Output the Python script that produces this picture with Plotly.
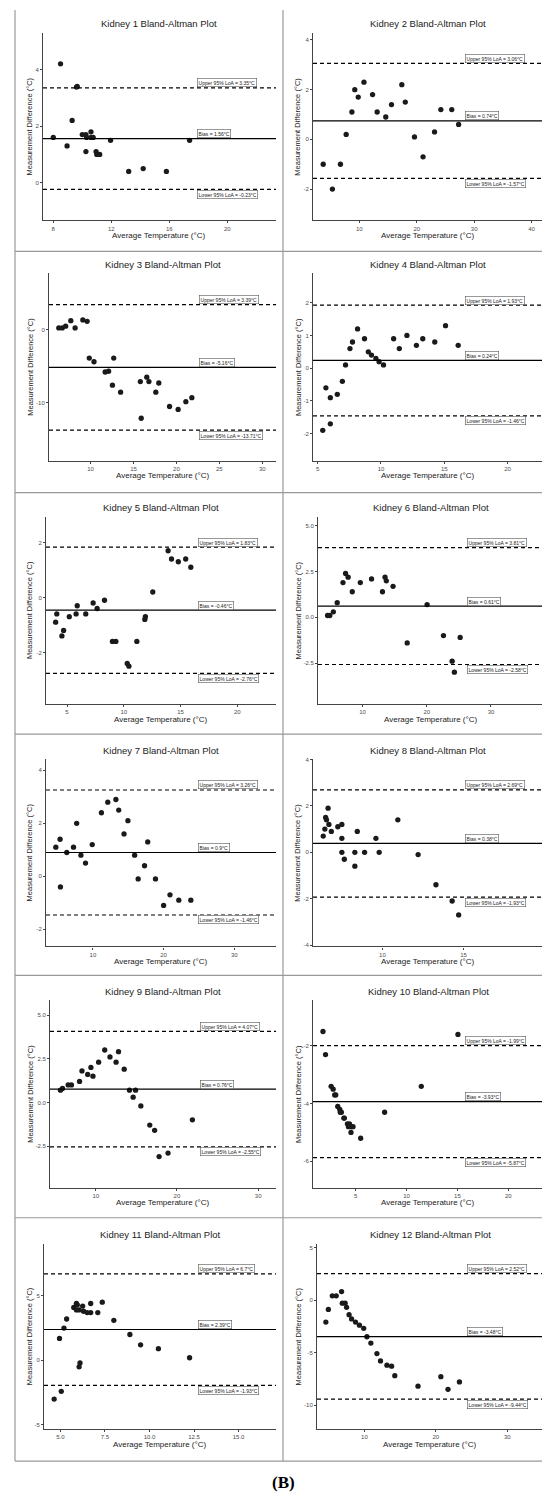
import plotly.graph_objects as go

W, H = 550, 1501

# ---- data: average temperature (x) and measurement difference (y) per kidney ----
k1_avg = [8.0, 8.5, 8.95, 9.3, 9.6, 9.65, 10.0, 10.25, 10.25, 10.3, 10.6, 10.6, 10.75, 10.95, 11.0, 11.2, 11.95, 13.2, 14.2, 15.8, 17.4]
k1_diff = [1.6, 4.2, 1.3, 2.2, 3.38, 3.4, 1.7, 1.7, 1.1, 1.6, 1.8, 1.6, 1.6, 1.1, 1.0, 1.0, 1.5, 0.4, 0.5, 0.4, 1.5]

k2_avg = [3.7, 5.3, 6.7, 7.7, 8.7, 9.2, 9.8, 10.8, 12.3, 13.1, 14.6, 15.6, 17.4, 18.0, 19.6, 21.1, 23.1, 24.2, 26.1, 27.3]
k2_diff = [-1.0, -2.0, -1.0, 0.2, 1.1, 2.0, 1.7, 2.3, 1.8, 1.1, 0.9, 1.4, 2.2, 1.5, 0.1, -0.7, 0.3, 1.2, 1.2, 0.6]

k3_avg = [6.3, 6.7, 7.1, 7.7, 8.2, 9.1, 9.6, 9.85, 10.4, 11.7, 12.1, 12.55, 12.7, 13.5, 15.8, 15.9, 16.55, 16.8, 17.6, 17.95, 19.2, 20.2, 21.1, 21.8]
k3_diff = [0.2, 0.2, 0.45, 1.2, 0.2, 1.3, 1.1, -3.9, -4.4, -5.8, -5.7, -7.6, -3.9, -8.55, -7.1, -12.1, -6.5, -7.1, -8.55, -7.3, -10.5, -10.9, -9.85, -9.3]

k4_avg = [5.4, 5.65, 6.0, 6.0, 6.55, 6.95, 7.2, 7.55, 7.75, 8.15, 8.7, 9.0, 9.25, 9.6, 9.85, 10.2, 11.0, 11.45, 12.05, 12.8, 13.3, 14.25, 15.1, 16.1]
k4_diff = [-1.9, -0.6, -0.9, -1.7, -0.8, -0.4, 0.1, 0.6, 0.8, 1.2, 0.9, 0.5, 0.4, 0.3, 0.2, 0.1, 0.9, 0.6, 1.0, 0.7, 0.9, 0.8, 1.3, 0.7]

k5_avg = [4.0, 4.1, 4.55, 4.7, 5.2, 5.8, 5.9, 6.65, 7.3, 7.65, 8.3, 9.0, 9.3, 10.3, 10.45, 11.15, 11.85, 11.9, 12.55, 13.9, 14.2, 14.8, 15.45, 15.9]
k5_diff = [-0.9, -0.6, -1.4, -1.2, -0.7, -0.6, -0.3, -0.6, -0.2, -0.4, -0.1, -1.6, -1.6, -2.4, -2.5, -1.6, -0.8, -0.7, 0.2, 1.7, 1.4, 1.3, 1.4, 1.1]

k6_avg = [4.55, 4.9, 5.45, 6.05, 6.95, 7.35, 7.75, 8.4, 9.65, 11.4, 13.1, 13.5, 13.7, 14.75, 16.95, 20.05, 22.6, 23.95, 24.3, 25.2]
k6_diff = [0.1, 0.1, 0.3, 0.8, 1.9, 2.4, 2.2, 1.4, 1.9, 2.1, 1.4, 2.2, 2.0, 1.7, -1.4, 0.7, -1.0, -2.4, -3.0, -1.1]

k7_avg = [4.75, 5.35, 5.4, 6.3, 7.25, 7.7, 8.3, 8.95, 9.9, 11.2, 12.1, 13.25, 13.65, 14.4, 14.95, 15.9, 16.4, 17.3, 17.75, 18.85, 20.0, 20.9, 22.15, 23.85]
k7_diff = [1.1, 1.4, -0.4, 0.9, 1.1, 2.0, 0.8, 0.5, 1.2, 2.4, 2.8, 2.9, 2.5, 1.6, 2.1, 0.8, -0.1, 0.4, 1.3, -0.1, -1.1, -0.7, -0.9, -0.9]

k8_avg = [6.35, 6.45, 6.5, 6.55, 6.65, 6.7, 6.85, 7.25, 7.5, 7.5, 7.5, 7.65, 8.3, 8.3, 8.45, 8.9, 9.6, 9.8, 10.95, 12.2, 13.3, 14.3, 14.7]
k8_diff = [0.7, 1.0, 1.5, 1.4, 1.9, 1.2, 0.9, 1.1, 1.2, 0.6, 0.0, -0.3, 0.0, -0.6, 0.9, 0.0, 0.6, 0.0, 1.4, -0.1, -1.4, -2.1, -2.7]

k9_avg = [5.65, 5.9, 6.6, 7.0, 8.0, 8.3, 9.0, 9.4, 9.65, 10.35, 11.1, 11.75, 12.5, 12.8, 13.5, 14.15, 14.6, 14.9, 15.55, 16.65, 17.25, 17.8, 18.9, 21.9]
k9_diff = [0.7, 0.8, 1.0, 1.0, 1.2, 1.8, 1.6, 2.0, 1.5, 2.3, 3.0, 2.6, 2.3, 2.9, 1.9, 0.7, 0.3, 0.7, -0.2, -1.3, -1.6, -3.1, -2.9, -1.0]

k10_avg = [1.8, 2.05, 2.6, 2.8, 2.95, 3.05, 3.25, 3.45, 3.5, 3.6, 3.85, 3.9, 4.2, 4.3, 4.4, 4.55, 4.75, 4.55, 5.5, 7.85, 11.45, 15.05]
k10_diff = [-1.5, -2.3, -3.4, -3.5, -3.7, -3.7, -4.1, -4.2, -4.3, -4.3, -4.5, -4.5, -4.7, -4.8, -4.7, -4.8, -4.8, -5.0, -5.2, -4.3, -3.4, -1.6]

k11_avg = [4.65, 4.95, 5.05, 5.2, 5.35, 5.75, 5.9, 5.95, 5.9, 6.05, 6.05, 6.1, 6.25, 6.3, 6.5, 6.7, 6.7, 7.1, 7.35, 8.0, 8.9, 9.5, 10.5, 12.25]
k11_diff = [-3.0, 1.7, -2.4, 2.5, 3.2, 4.1, 4.4, 4.3, 3.9, 3.9, -0.5, -0.2, 4.2, 3.8, 3.7, 4.4, 3.7, 3.7, 4.5, 3.1, 2.0, 1.2, 0.9, 0.2]

k12_avg = [4.6, 4.95, 5.5, 6.05, 6.8, 6.9, 7.3, 7.5, 7.85, 8.2, 8.75, 9.3, 9.9, 10.35, 10.9, 11.75, 12.25, 13.15, 13.8, 14.25, 17.5, 20.7, 21.7, 23.3]
k12_diff = [-2.1, -0.9, 0.4, 0.4, 0.8, -0.3, -0.3, -0.7, -1.4, -1.8, -2.1, -2.4, -2.7, -3.5, -4.1, -5.1, -5.8, -6.2, -6.3, -7.2, -8.2, -7.3, -8.5, -7.8]

avg_temps = [k1_avg, k2_avg, k3_avg, k4_avg, k5_avg, k6_avg,
             k7_avg, k8_avg, k9_avg, k10_avg, k11_avg, k12_avg]
differences = [k1_diff, k2_diff, k3_diff, k4_diff, k5_diff, k6_diff,
               k7_diff, k8_diff, k9_diff, k10_diff, k11_diff, k12_diff]

# bias and 95% limits of agreement
bias = [1.56, 0.74, -5.16, 0.24, -0.46, 0.61, 0.9, 0.38, 0.76, -3.93, 2.39, -3.48]
upper_loa = [3.35, 3.06, 3.39, 1.93, 1.83, 3.81, 3.26, 2.69, 4.07, -1.99, 6.7, 2.52]
lower_loa = [-0.23, -1.57, -13.71, -1.46, -2.76, -2.58, -1.46, -1.93, -2.55, -5.87, -1.93, -9.44]

# tick labels
x_ticks = [[8, 12, 16, 20], [10, 20, 30, 40], [10, 15, 20, 25, 30], [5, 10, 15, 20],
           [5, 10, 15, 20], [10, 20, 30], [10, 20, 30], [10, 15],
           [10, 20, 30], [5, 10, 15, 20], [5.0, 7.5, 10.0, 12.5, 15.0], [10, 20, 30]]
x_tick_text = [["8", "12", "16", "20"], ["10", "20", "30", "40"], ["10", "15", "20", "25", "30"],
               ["5", "10", "15", "20"], ["5", "10", "15", "20"], ["10", "20", "30"],
               ["10", "20", "30"], ["10", "15"], ["10", "20", "30"], ["5", "10", "15", "20"],
               ["5.0", "7.5", "10.0", "12.5", "15.0"], ["10", "20", "30"]]
y_ticks = [[0, 2, 4], [-2, 0, 2, 4], [-10, 0], [-2, -1, 0, 1, 2],
           [-2, 0, 2], [-2.5, 0, 2.5, 5], [-2, 0, 2, 4], [-4, -2, 0, 2, 4],
           [-2.5, 0, 2.5, 5], [-6, -4, -2], [-5, 0, 5], [-10, -5, 0, 5]]
y_tick_text = [["0", "2", "4"], ["-2", "0", "2", "4"], ["-10", "0"], ["-2", "-1", "0", "1", "2"],
               ["-2", "0", "2"], ["-2.5", "0.0", "2.5", "5.0"], ["-2", "0", "2", "4"],
               ["-4", "-2", "0", "2", "4"], ["-2.5", "0.0", "2.5", "5.0"], ["-6", "-4", "-2"],
               ["-5", "0", "5"], ["-10", "-5", "0", "5"]]

# ---- layout settings ----
x_ranges = [[7.29, 23.36], [1.92, 42.0], [5.16, 31.6], [4.63, 22.8], [3.15, 23.4], [3.06, 38.1],
            [3.36, 35.9], [5.72, 19.9], [4.36, 32.2], [0.82, 23.4], [4.08, 17.1], [3.36, 35.0]]
y_ranges = [[-1.33, 5.29], [-3.26, 4.28], [-17.9, 7.65], [-2.83, 2.9], [-3.88, 2.94], [-4.75, 5.51],
            [-2.65, 4.43], [-4.06, 4.02], [-4.89, 5.84], [-6.92, -0.42], [-5.33, 9.03], [-12.3, 5.36]]

# plot area in pixels: left, right, top, bottom
boxes = [(35, 268, 23, 211), (305, 535, 23, 211),
         (41, 268, 264, 452), (305, 535, 264, 452),
         (38, 268, 508, 696), (310, 535, 508, 696),
         (38, 268, 751, 939), (305, 535, 751, 939),
         (42, 268, 993, 1181), (305, 535, 993, 1181),
         (36, 268, 1237, 1423), (309, 535, 1237, 1423)]

FONT = "Liberation Sans, Arial, sans-serif"
fig = go.Figure()
shapes = []
annotations = []
layout = {}

for i in range(12):
    ax = "" if i == 0 else str(i + 1)
    l, r, t, b = boxes[i]

    fig.add_trace(go.Scatter(x=avg_temps[i], y=differences[i], mode="markers",
                             marker=dict(size=5.3, color="#1a1a1a"),
                             xaxis="x" + ax, yaxis="y" + ax, showlegend=False))

    common = dict(showgrid=False, zeroline=False, showline=True, linecolor="#444444",
                  linewidth=1.1, ticks="outside", ticklen=2, tickcolor="#444444",
                  tickfont=dict(family=FONT, size=6, color="#4d4d4d"))
    layout["xaxis" + ax] = dict(domain=[l / W, r / W], anchor="y" + ax, range=x_ranges[i],
                                tickvals=x_ticks[i], ticktext=x_tick_text[i], **common)
    layout["yaxis" + ax] = dict(domain=[1 - b / H, 1 - t / H], anchor="x" + ax, range=y_ranges[i],
                                tickvals=y_ticks[i], ticktext=y_tick_text[i], **common)

    # bias and limits of agreement lines with their labels
    lines = [(upper_loa[i], "dash", "Upper 95% LoA = {:g}°C", 5),
             (bias[i], "solid", "Bias = {:g}°C", 5),
             (lower_loa[i], "dash", "Lower 95% LoA = {:g}°C", -5)]
    for val, dash, fmt, shift in lines:
        shapes.append(dict(type="line", xref="x" + ax + " domain", x0=0, x1=1,
                           yref="y" + ax, y0=val, y1=val,
                           line=dict(color="black", width=1.2,
                                     dash="4px,3px" if dash == "dash" else "solid")))
        annotations.append(dict(xref="x" + ax + " domain", x=0.662, xanchor="left",
                                yref="y" + ax, y=val, yanchor="middle", yshift=shift,
                                text=fmt.format(val), showarrow=False,
                                font=dict(family=FONT, size=5, color="#222"),
                                bgcolor="white", bordercolor="#555", borderwidth=0.6,
                                borderpad=1))

    # panel title and axis titles
    annotations.append(dict(xref="x" + ax + " domain", x=0.5, yref="paper", y=1 - (t - 9) / H,
                            text="Kidney %d Bland-Altman Plot" % (i + 1), showarrow=False,
                            font=dict(family=FONT, size=9.5, color="#222"),
                            xanchor="center", yanchor="middle"))
    annotations.append(dict(xref="x" + ax + " domain", x=0.5, yref="paper", y=1 - (b + 15) / H,
                            text="Average Temperature (°C)", showarrow=False,
                            font=dict(family=FONT, size=8, color="#222"),
                            xanchor="center", yanchor="middle"))
    ytx = 21.7 if i % 2 == 0 else 290
    annotations.append(dict(xref="paper", x=ytx / W, yref="y" + ax + " domain", y=0.5,
                            text="Measurement Difference (°C)", showarrow=False, textangle=-90,
                            font=dict(family=FONT, size=7.5, color="#222"),
                            xanchor="center", yanchor="middle"))

# panel borders
for xp in [7, 275, 543]:
    shapes.append(dict(type="line", xref="paper", yref="paper", x0=xp / W, x1=xp / W,
                       y0=1 - 0 / H, y1=1 - 1455 / H, line=dict(color="#999", width=1.2)))
for yp in [242, 484, 726, 968, 1211, 1455]:
    shapes.append(dict(type="line", xref="paper", yref="paper", x0=7 / W, x1=543 / W,
                       y0=1 - yp / H, y1=1 - yp / H, line=dict(color="#999", width=1.2)))

annotations.append(dict(xref="paper", yref="paper", x=0.5, y=1 - 1476 / H, text="<b>(B)</b>",
                        showarrow=False, font=dict(family="Liberation Serif, Times New Roman, serif",
                                                   size=17, color="black"),
                        xanchor="center", yanchor="middle"))

fig.update_layout(width=W, height=H, margin=dict(l=0, r=0, t=0, b=0),
                  plot_bgcolor="white", paper_bgcolor="white",
                  shapes=shapes, annotations=annotations, **layout)

fig.write_html("out.html")
